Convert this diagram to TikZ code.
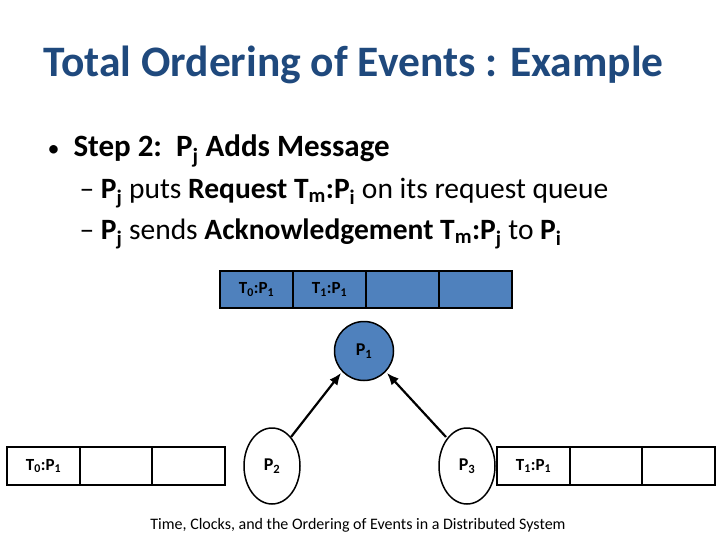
\documentclass[tikz,border=0pt]{standalone}
\usepackage{fontspec}
\setmainfont{Carlito}
\usetikzlibrary{arrows.meta}
\definecolor{qblue}{HTML}{4F81BD}
\definecolor{ttl}{HTML}{1F497D}
\tikzset{
  cell/.style={draw,line width=1.5pt,minimum width=73pt,minimum height=37pt,inner sep=0pt,font=\fontsize{17}{17}\selectfont\bfseries},
  proc/.style={draw,line width=1.5pt,font=\fontsize{18}{18}\selectfont\bfseries},
  msg/.style={-{Latex[length=12pt,width=10pt]},line width=2.2pt}
}
\begin{document}
\begin{tikzpicture}[x=1pt,y=-1pt]
\useasboundingbox (0,0) rectangle (720,540);
% title and bullets
\node[anchor=west,text=ttl,font=\fontsize{43.5}{43.5}\selectfont\bfseries] (title) at (40,65) {Total Ordering of Events : Example};
\node[anchor=west,font=\fontsize{31}{31}\selectfont\bfseries] (step) at (44,151) {{\mdseries\fontsize{24}{24}\selectfont\textbullet}\ \ Step 2:\ \ P\textsubscript{j} Adds Message};
\node[anchor=west,font=\fontsize{29.5}{29.5}\selectfont] (l1) at (76,193) {-- \textbf{P\textsubscript{j}} puts \textbf{Request T\textsubscript{m}:P\textsubscript{i}} on its request queue};
\node[anchor=west,font=\fontsize{29.5}{29.5}\selectfont] (l2) at (76,234) {-- \textbf{P\textsubscript{j}} sends \textbf{Acknowledgement T\textsubscript{m}:P\textsubscript{j}} to \textbf{P\textsubscript{i}}};
% request queue of P1
\foreach \i/\lab in {0/{T\textsubscript{0}:P\textsubscript{1}},1/{T\textsubscript{1}:P\textsubscript{1}},2/{},3/{}}
  \node[cell,fill=qblue] (q1\i) at (256.5+73*\i,289.5) {\lab};
% queues of P2 and P3
\foreach \i/\lab in {0/{T\textsubscript{0}:P\textsubscript{1}},1/{},2/{}}
  \node[cell,minimum height=38pt] (q2\i) at (43.5+72.5*\i,466) {\lab};
\foreach \i/\lab in {0/{T\textsubscript{1}:P\textsubscript{1}},1/{},2/{}}
  \node[cell,minimum height=38pt] (q3\i) at (533.5+72.5*\i,466) {\lab};
% processes
\node[proc,circle,fill=qblue,minimum size=59pt] (p1) at (364,351) {P\textsubscript{1}};
\draw[line width=1.5pt] (272,466) ellipse (28 and 38);
\node[font=\fontsize{18}{18}\selectfont\bfseries] (p2) at (272,466) {P\textsubscript{2}};
\draw[line width=1.5pt] (467,466) ellipse (28 and 38);
\node[font=\fontsize{18}{18}\selectfont\bfseries] (p3) at (467,466) {P\textsubscript{3}};
\coordinate (s2) at (291,437);
\coordinate (s3) at (446,437);
\coordinate (e2) at (341,373);
\coordinate (e3) at (387,373);
% acknowledgements
\draw[msg] (s2) -- (e2);
\draw[msg] (s3) -- (e3);
% footer
\node[font=\fontsize{16}{16}\selectfont] (foot) at (358,525) {Time, Clocks, and the Ordering of Events in a Distributed System};
\end{tikzpicture}
\end{document}
